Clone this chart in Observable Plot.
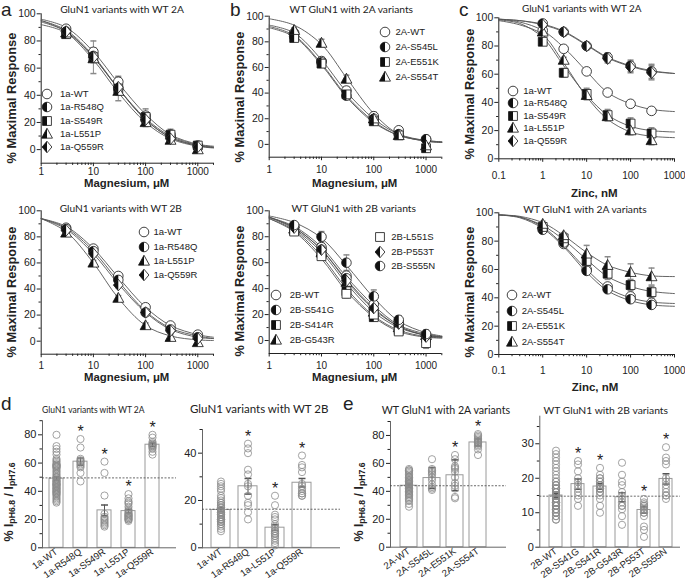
<!DOCTYPE html>
<html><head><meta charset="utf-8">
<script src="https://cdn.jsdelivr.net/npm/d3@7"></script>
<script src="https://cdn.jsdelivr.net/npm/@observablehq/plot@0.6"></script>
<style>
body{margin:0;background:#fff;}
#root{position:relative;width:685px;height:580px;overflow:hidden;font-family:"Liberation Sans",Arial,sans-serif;color:#222;}
.abs{position:absolute;white-space:nowrap;line-height:1;}
.c{transform:translate(-50%,-50%);}
.title{font-family:Lato,"Liberation Sans",sans-serif;font-size:11px;}
.letter{font-size:19px;}
.xlab{font-weight:bold;font-size:11.5px;}
.ylab{font-weight:bold;font-size:11.5px;transform:translate(-50%,-50%) rotate(-90deg);}
.leg{font-size:9.5px;transform:translateY(-50%);}
sub{font-size:70%;vertical-align:-0.25em;}
</style></head><body><div id="root"></div><script>
// ---------------- DATA ----------------
const mgDoses = [3, 10, 30, 100, 300, 1000];
const mgFitX = [1, 3, 10, 30, 100, 300, 1000, 2000];
const znDoses = [1, 3, 10, 30, 100, 300];
const znFitX = [0.1, 0.3, 1, 3, 10, 30, 100, 300, 1000];
const mgMajor = [1, 10, 100, 1000];
const mgMinor = [2,3,4,5,6,7,8,9,20,30,40,50,60,70,80,90,200,300,400,500,600,700,800,900,2000];
const znMajor = [0.1, 1, 10, 100, 1000];
const znMinor = [0.2,0.3,0.4,0.5,0.6,0.7,0.8,0.9,2,3,4,5,6,7,8,9,20,30,40,50,60,70,80,90,200,300,400,500,600,700,800,900];
const pctMajor = [0, 20, 40, 60, 80, 100];
const pctMinor = [10, 30, 50, 70, 90];

// a: GluN1 variants with WT 2A (Mg)
const aSeries = ["1a-WT","1a-R548Q","1a-S549R","1a-L551P","1a-Q559R"];
const aMean = [[89,72,50,25,11,3],[87,69,45,22,9,2],[85,68,45,24,11,3],[86,67,43,20,7,0],[87,68,46,22,8,2]];
const aErr  = [[2,3,3,3,2,2],[2,3,3,3,2,2],[3,12,9,6,4,3],[2,3,3,3,2,2],[2,3,3,3,2,2]];
const aFit  = [[96,90,72,49,26,11,4,2.5],[95,88,69,45,22,9,3,1.5],[95,87,68,45,23,10,3.5,2],[92,86,66,42,20,8,2.5,1.2],[94,87,68,45,22,9,3,1.5]];

// b: WT GluN1 with 2A variants (Mg)
const bSeries = ["2A-WT","2A-S545L","2A-E551K","2A-S554T"];
const bMean = [[87,65,42,22,11,4],[84,64,38,20,8,4],[83,63,39,18,7,-3],[89,79,51,20,7,-1]];
const bErr  = [[2,3,3,3,2,2],[2,3,3,3,2,2],[2,3,3,3,2,3],[2,3,3,3,2,2]];
const bFit  = [[93,87,66,41,20,8,3,2],[92,85,63,38,18,7,3,2],[91,84,62,37,17,7,2.5,1.5],[98,93,78,52,24,8,2.5,1.5]];

// c: GluN1 variants with WT 2A (Zn)
const cSeries = ["1a-WT","1a-R548Q","1a-S549R","1a-L551P","1a-Q559R"];
const cMean = [[91,78,62,47,39,34],[96,90,80,72,66,62],[83,61,46,31,25,18],[90,70,45,30,20,13],[95,90,80,71,65,61]];
const cErr  = [[1,2,2,2,2,2],[2,2,2,3,4,5],[2,3,4,4,4,4],[2,2,3,3,3,3],[2,2,2,3,4,5]];
const cFit  = [[99,97,91,79,62,47,39,35,33.5],[99,98,95.5,90.5,81,72,66,62.5,60.5],[98.5,96,86,66,45,31,23,20,19],[98,95,88,68,44,28,19,16,15],[99,98,95,90,80.5,71.5,65.5,62,60.5]];

// a2: GluN1 variants with WT 2B (Mg)
const a2Series = ["1a-WT","1a-R548Q","1a-L551P","1a-Q559R"];
const a2Mean = [[87,71,50,26,12,5],[86,69,47,22,9,3],[83,60,33,12,3,-1],[85,67,43,22,8,2]];
const a2Err  = [[2,2,2,2,2,2],[2,2,2,2,2,2],[2,2,2,2,2,2],[2,2,2,2,2,2]];
const a2Fit  = [[94,88,71,49,26,12,5,3],[94,87,69,46,23,10,4,2],[94,84,60,33,12,4,1,0.5],[94,86,67,44,22,9,3,2]];

// b2: WT GluN1 with 2B variants (Mg)
const b2Series = ["2B-WT","2B-S541G","2B-S414R","2B-G543R","2B-L551S","2B-P553T","2B-S555N"];
const b2Mean = [[88,72,50,28,14,4],[87,70,48,24,12,3],[85,67,38,18,8,2],[86,68,45,22,10,4],[84,65,36,20,7,-2],[87,70,46,25,13,3],[89,80,60,34,16,5]];
const b2Err  = [[2,2,3,3,2,2],[2,2,3,3,2,2],[2,2,3,3,2,2],[2,2,3,3,2,2],[2,2,3,3,2,4],[2,2,3,3,2,2],[2,4,6,5,3,3]];
const b2Fit  = [[95,88,72,49,27,12,5,3],[95,87,70,47,25,11,4,3],[94,85,65,40,19,8,3,2],[95,86,68,44,22,10,4,2.5],[94,84,63,38,18,7,2.5,2],[95,87,70,46,24,11,4,3],[96,91,79,58,33,15,6,3.5]];

// c2: WT GluN1 with 2A variants (Zn)
const c2Series = ["2A-WT","2A-S545L","2A-E551K","2A-S554T"];
const c2Mean = [[89,78,60,48,41,36.5],[88,79,59,46,39,35],[90,82,66,57,49,44],[92,84,71,63,58,55]];
const c2Err  = [[1,2,2,2,2,2],[1,2,2,2,2,2],[2,2,4,4,4,4],[2,2,6,6,6,6]];
const c2Fit  = [[98.5,97,90,77,60,47,40,37,36],[98.5,96.5,89,76,58,45,38,35,34],[98.5,97,91,81,67,55,48,44.5,43],[98.5,97.5,93,84,72,63,58,55.5,55]];

// d1: GluN1 variants with WT 2A (pH)
const d1Cats = ["1a-WT","1a-R548Q","1a-S549R","1a-L551P","1a-Q559R"];
const d1Mean = [49, 61, 26.5, 26, 73];
const d1Sem = [1.2, 2.5, 3.8, 1.3, 1.2];
const d1Sig = [false, true, true, true, true];
const d1Line = 49.5;
const d1Points = [
  [80,72,70,68,66,63,62,61,60,59,59,58,58,58,57,57,56,55,54,53,52,51,50,50,49,48,48,47,47,46,46,45,45,45,44,44,43,43,42,42,41,41,40,40,39,39,38,38,37,36,35,34,33,32],
  [77,71,63,62,61,61,60,59,58,57,53,47],
  [61,53,37,24,22,21,20,19,18,17,16,15],
  [38,35,33,32,31,29,27,26,25,24,24,23,23,22,22,21,21,20,20,19],
  [80,78,75,74,73,73,72,72,71,70,68,66]
];
// d2: GluN1 variants with WT 2B (pH)
const d2Cats = ["1a-WT","1a-R548Q","1a-L551P","1a-Q559R"];
const d2Mean = [16, 26, 8.5, 27.5];
const d2Sem = [0.8, 3.3, 1.2, 1.8];
const d2Sig = [false, true, true, true];
const d2Line = 16.3;
const d2Points = [
  [28,27,26,25,24,22,21,20,19,19,18,18,17,17,16,16,16,15,15,15,14,14,14,13,13,13,12,12,12,12,11,11,11,10,10,9,8,7],
  [44,42,40,33,31,27,26,22,19,18,15,12],
  [22,18,14,13,12,10,9,8,7,7,6,6,5,5,4,3,2,1],
  [39,35,34,32,27,26,25,24,23,23,22,22]
];
// e1: WT GluN1 with 2A variants (pH)
const e1Cats = ["2A-WT","2A-S545L","2A-E551K","2A-S554T"];
const e1Mean = [44, 49.5, 51.5, 75];
const e1Sem = [1.2, 7.5, 11, 2.5];
const e1Sig = [false, false, true, true];
const e1Line = 44;
const e1Points = [
  [56,55,55,54,53,52,51,50,50,49,48,48,47,47,46,46,45,45,44,44,43,43,42,42,41,41,40,40,39,38,38,37,36,35,34,33,31,29],
  [63,56,55,54,53,52,50,48,45,43,42,41],
  [66,63,58,57,56,54,50,46,44,42,36,35],
  [81,80,79,78,77,76,76,75,75,74,73,72,70,66]
];
// e2: WT GluN1 with 2B variants (pH)
const e2Cats = ["2B-WT","2B-S541G","2B-S541R","2B-G543R","2B-P553T","2B-S555N"];
const e2Mean = [15, 18.3, 17.6, 14.5, 10.8, 19.8];
const e2Sem = [0.5, 1.5, 0.8, 1.3, 0.9, 1.5];
const e2Sig = [false, true, true, false, true, true];
const e2Line = 14.8;
const e2Points = [
  [28,27,26,25,24,23,22,21,20,19,19,18,18,18,17,17,17,17,16,16,16,16,16,15,15,15,15,15,15,14,14,14,14,14,13,13,13,13,13,12,12,12,12,12,11,11,11,11,10,10,10,9,9,8,8],
  [25,24,22,20,19,18,17,16,15,14,12],
  [23,21,20,20,19,19,18,18,18,17,17,17,16,16,15,14,12,10],
  [24.5,21,19,18,16,15,14,13,12,12,11,9,6.5],
  [14,13,12.5,12,12,11.5,11,11,10,10,9,6,5,3],
  [29,26,25,24,20,19,18,17,16,15,15,14]
];

// ---------------- SHAPES ----------------
const rr = s => Math.sqrt(s / Math.PI);
const SYM = {
  circle: {draw(c, s) { const r = rr(s); c.moveTo(r, 0); c.arc(0, 0, r, 0, 2 * Math.PI); }},
  circleL: {draw(c, s) { const r = rr(s); c.moveTo(0, -r); c.arc(0, 0, r, -Math.PI / 2, Math.PI / 2, true); c.closePath(); }},
  square: {draw(c, s) { const r = rr(s) * 0.92; c.rect(-r, -r, 2 * r, 2 * r); }},
  squareL: {draw(c, s) { const r = rr(s) * 0.92; c.rect(-r, -r, r, 2 * r); }},
  triangle: {draw(c, s) { const r = rr(s) * 1.2; c.moveTo(0, -r); c.lineTo(r * 0.95, r * 0.72); c.lineTo(-r * 0.95, r * 0.72); c.closePath(); }},
  triangleL: {draw(c, s) { const r = rr(s) * 1.2; c.moveTo(0, -r); c.lineTo(0, r * 0.72); c.lineTo(-r * 0.95, r * 0.72); c.closePath(); }},
  diamond: {draw(c, s) { const r = rr(s) * 1.2; c.moveTo(0, -r); c.lineTo(r * 0.85, 0); c.lineTo(0, r); c.lineTo(-r * 0.85, 0); c.closePath(); }},
  diamondL: {draw(c, s) { const r = rr(s) * 1.2; c.moveTo(0, -r); c.lineTo(0, r); c.lineTo(-r * 0.85, 0); c.closePath(); }},
  hline: {draw(c, s) { const r = rr(s); c.moveTo(-r, 0); c.lineTo(r, 0); }}
};
const SHAPES = {
  circle: {full: SYM.circle}, circleH: {full: SYM.circle, half: SYM.circleL},
  square: {full: SYM.square}, squareH: {full: SYM.square, half: SYM.squareL},
  triangleH: {full: SYM.triangle, half: SYM.triangleL}, diamondH: {full: SYM.diamond, half: SYM.diamondL}
};

const root = document.getElementById("root");
const FONT = '"Liberation Sans", Arial, sans-serif';
const MR = 4.8;

function place(svg, left, top) {
  svg.style.position = "absolute"; svg.style.left = left + "px"; svg.style.top = top + "px"; svg.style.maxWidth = "none";
  root.appendChild(svg);
}
function txt(html, x, y, cls, width) {
  const el = document.createElement("div");
  el.className = "abs " + cls;
  el.innerHTML = html;
  el.style.left = x + "px"; el.style.top = y + "px";
  root.appendChild(el);
  if (width) {
    const fs = parseFloat(getComputedStyle(el).fontSize);
    el.style.fontSize = (fs * width / el.offsetWidth) + "px";
  }
  return el;
}
function symbolAt(kind, cx, cy) {
  const sh = SHAPES[kind], size = Math.PI * MR * MR;
  const p1 = d3.path(); sh.full.draw(p1, size);
  let h = `<svg width="16" height="16" viewBox="-8 -8 16 16" style="position:absolute;left:${cx - 8}px;top:${cy - 8}px;overflow:visible"><path d="${p1}" fill="white" stroke="#111" stroke-width="0.8"/>`;
  if (sh.half) { const p2 = d3.path(); sh.half.draw(p2, size); h += `<path d="${p2}" fill="#111"/>`; }
  root.insertAdjacentHTML("beforeend", h + "</svg>");
}
function legend(names, kinds, sx, tx, ys) {
  names.forEach((n, i) => { symbolAt(kinds[i], sx, ys[i]); txt(n, tx, ys[i], "leg"); });
}

function curvePanel(P) {
  const pts = [], fits = [];
  P.series.forEach((s, i) => {
    P.doses.forEach((x, j) => pts.push({s, i, x, y: P.mean[i][j], e: P.err[i][j]}));
    P.fitX.forEach((x, j) => fits.push({s, i, x, y: P.fit[i][j]}));
  });
  const marks = [
    Plot.ruleY([P.yDomain[0]], {stroke: "#222"}),
    Plot.ruleX([P.xDomain[0]], {stroke: "#222"}),
    Plot.axisX(P.xMajor, {tickSize: 3.5, tickPadding: P.tp, tickFormat: d => String(d), label: null, fontSize: 10}),
    Plot.axisX(P.xMinor, {tickSize: 2.2, tickFormat: () => "", label: null}),
    Plot.axisY(pctMajor, {tickSize: 4, tickPadding: 1.5, tickFormat: d => String(d), label: null, fontSize: 10.5}),
    Plot.axisY(pctMinor, {tickSize: 2.2, tickFormat: () => "", label: null}),
    Plot.line(fits, {x: "x", y: "y", z: "s", curve: "catmull-rom", stroke: "#555", strokeWidth: 0.9}),
    Plot.ruleX(pts, {x: "x", y1: d => d.y - d.e, y2: d => d.y + d.e, stroke: "#8a8a8a"}),
    Plot.dot(pts, {x: "x", y: d => d.y + d.e, symbol: SYM.hline, r: 3, stroke: "#8a8a8a", fill: "none"}),
    Plot.dot(pts, {x: "x", y: d => d.y - d.e, symbol: SYM.hline, r: 3, stroke: "#8a8a8a", fill: "none"})
  ];
  P.series.forEach((s, i) => {
    const sh = SHAPES[P.kinds[i]];
    const sub = pts.filter(d => d.i === i);
    marks.push(Plot.dot(sub, {x: "x", y: "y", r: MR, symbol: sh.full, fill: "white", stroke: "#111", strokeWidth: 0.8}));
    if (sh.half) marks.push(Plot.dot(sub, {x: "x", y: "y", r: MR, symbol: sh.half, fill: "#111", stroke: "none"}));
  });
  const svg = Plot.plot({
    width: P.w, height: P.h, marginLeft: P.m[0], marginRight: P.m[1], marginTop: P.m[2], marginBottom: P.m[3],
    x: {type: "log", domain: P.xDomain, axis: null}, y: {domain: P.yDomain, axis: null},
    style: {fontFamily: FONT, fontSize: "10.5px", color: "#222", overflow: "visible"},
    marks
  });
  place(svg, P.left, P.top);
}

function barPanel(B) {
  const rows = B.cats.map((c, i) => ({c, m: B.mean[i], s: B.sem[i], sig: B.sig[i], max: d3.max(B.points[i])}));
  const pts = B.cats.flatMap((c, i) => B.points[i].map(v => ({c, v})));
  const common = {width: B.w, height: B.h, marginLeft: B.m[0], marginRight: B.m[1], marginTop: B.m[2], marginBottom: B.m[3],
    style: {fontFamily: FONT, fontSize: "10.5px", color: "#222", overflow: "visible"}};
  const band = {domain: B.cats, paddingInner: B.pi, paddingOuter: B.po, align: B.align};
  const svg1 = Plot.plot({...common,
    x: {...band, axis: null}, y: {domain: B.yDomain, axis: null},
    marks: [
      Plot.barY(rows, {x: "c", y: "m", fill: "white", stroke: "#9a9a9a"}),
      Plot.ruleY([0], {stroke: "#666"}),
      Plot.frame({anchor: "left", stroke: "#666"}),
      Plot.axisY(B.yMajor, {tickSize: 4, tickPadding: 2, label: null, fontSize: 11}),
      Plot.axisY(B.yMinor, {tickSize: 2.5, tickFormat: () => "", label: null}),
      Plot.axisX({tickSize: 0, tickPadding: 3, tickRotate: -35, label: null, fontSize: 9.5}),
      Plot.ruleY([B.line], {stroke: "#444", strokeDasharray: "2,1.5", strokeWidth: 0.8}),
      Plot.ruleX(rows, {x: "c", y1: d => d.m - d.s, y2: d => d.m + d.s, stroke: "#555"}),
      Plot.dot(rows, {x: "c", y: d => d.m + d.s, symbol: SYM.hline, r: 3.5, stroke: "#555", fill: "none"}),
      Plot.dot(rows, {x: "c", y: d => d.m - d.s, symbol: SYM.hline, r: 3.5, stroke: "#555", fill: "none"}),
      Plot.text(rows.filter(d => d.sig), {x: "c", y: "max", text: () => "*", dy: -7, fontSize: 16, lineAnchor: "middle"})
    ]});
  place(svg1, B.left, B.top);
  const svg2 = Plot.plot({...common,
    fx: {...band, axis: null, label: null}, y: {domain: B.yDomain, axis: null},
    marks: [Plot.dot(pts, Plot.dodgeX({anchor: "middle", padding: B.dp}, {fx: "c", y: "v", r: 3.6, stroke: "#8c8c8c", fill: "none", strokeWidth: 0.8}))]
  });
  place(svg2, B.left, B.top);
}

const K5 = ["circle","circleH","squareH","triangleH","diamondH"];
const K4 = ["circle","circleH","squareH","triangleH"];
curvePanel({left: 0, top: 0, w: 228, h: 195, m: [40.7, 15, 13.3, 32.3], tp: 0.8, xDomain: [1, 2000], yDomain: [-10, 100], xMajor: mgMajor, xMinor: mgMinor,
  doses: mgDoses, fitX: mgFitX, series: aSeries, mean: aMean, err: aErr, fit: aFit, kinds: K5});
curvePanel({left: 228, top: 0, w: 228, h: 195, m: [40.7, 14.7, 15.7, 38.3], tp: 5.5, xDomain: [1, 2000], yDomain: [-10, 100], xMajor: mgMajor, xMinor: mgMinor,
  doses: mgDoses, fitX: mgFitX, series: bSeries, mean: bMean, err: bErr, fit: bFit, kinds: K4});
curvePanel({left: 455, top: 0, w: 230, h: 195, m: [43.3, 11, 17.3, 36.7], tp: 9.3, xDomain: [0.1, 1000], yDomain: [0, 100], xMajor: znMajor, xMinor: znMinor,
  doses: znDoses, fitX: znFitX, series: cSeries, mean: cMean, err: cErr, fit: cFit, kinds: K5});
curvePanel({left: 0, top: 195, w: 228, h: 200, m: [40.7, 15, 15.3, 41.3], tp: 4, xDomain: [1, 2000], yDomain: [-10, 100], xMajor: mgMajor, xMinor: mgMinor,
  doses: mgDoses, fitX: mgFitX, series: a2Series, mean: a2Mean, err: a2Err, fit: a2Fit, kinds: ["circle","circleH","triangleH","diamondH"]});
curvePanel({left: 228, top: 195, w: 228, h: 200, m: [40.7, 14.7, 15.3, 42], tp: 4.6, xDomain: [1, 2000], yDomain: [-10, 100], xMajor: mgMajor, xMinor: mgMinor,
  doses: mgDoses, fitX: mgFitX, series: b2Series, mean: b2Mean, err: b2Err, fit: b2Fit, kinds: ["circle","circleH","squareH","triangleH","square","diamondH","circleH"]});
curvePanel({left: 455, top: 195, w: 230, h: 200, m: [43.3, 11, 17.3, 41], tp: 8.6, xDomain: [0.1, 1000], yDomain: [0, 100], xMajor: znMajor, xMinor: znMinor,
  doses: znDoses, fitX: znFitX, series: c2Series, mean: c2Mean, err: c2Err, fit: c2Fit, kinds: K4});

barPanel({left: 0, top: 395, w: 180, h: 185, m: [42, 4, 25.2, 32.7], pi: 0.41, po: 0.43, align: 0.3, dp: -6, yDomain: [0, 90], yMajor: [0,20,40,60,80], yMinor: [10,30,50,70,90],
  cats: d1Cats, mean: d1Mean, sem: d1Sem, sig: d1Sig, line: d1Line, points: d1Points});
barPanel({left: 170, top: 395, w: 175, h: 185, m: [32, 5, 34, 32.7], pi: 0.31, po: 0.67, align: 0.23, dp: -5.4, yDomain: [0, 50], yMajor: [0,20,40], yMinor: [10,30,50],
  cats: d2Cats, mean: d2Mean, sem: d2Sem, sig: d2Sig, line: d2Line, points: d2Points});
barPanel({left: 340, top: 395, w: 170, h: 185, m: [50, 4, 26, 33.3], pi: 0.28, po: 0.62, align: 0.33, dp: -5.8, yDomain: [0, 90], yMajor: [0,20,40,60,80], yMinor: [10,30,50,70,90],
  cats: e1Cats, mean: e1Mean, sem: e1Sem, sig: e1Sig, line: e1Line, points: e1Points});
barPanel({left: 505, top: 395, w: 180, h: 185, m: [34.3, 5, 20.7, 33.3], pi: 0.39, po: 0.36, align: 0.55, dp: -5.8, yDomain: [0, 38], yMajor: [0,10,20,30], yMinor: [5,15,25,35],
  cats: e2Cats, mean: e2Mean, sem: e2Sem, sig: e2Sig, line: e2Line, points: e2Points});

// ---------------- TEXT ----------------
[["a", 1, 0], ["b", 230, 0], ["c", 459, 0], ["d", 1, 394], ["e", 343, 394]].forEach(([t, x, y]) => txt(t, x, y, "letter"));
[["GluN1 variants with WT 2A", 122, 8.5, 124], ["WT GluN1 with 2A variants", 351.3, 8.5, 123], ["GluN1 variants with WT 2A", 581.7, 8.5, 120],
 ["GluN1 variants with WT 2B", 120.8, 207.7, 122], ["WT GluN1 with 2B variants", 353.8, 208.3, 125], ["WT GluN1 with 2A variants", 585, 209, 123],
 ["GluN1 variants with WT 2A", 93.3, 410, 103], ["GluN1 variants with WT 2B", 259.2, 409, 138], ["WT GluN1 with 2A variants", 446, 410, 128], ["WT GluN1 with 2B variants", 605.8, 410, 125]
].forEach(([t, x, y, w]) => txt(t, x, y, "title c", w));
[[12, 97.5], [240, 97], [470, 94], [11.7, 291.7], [240, 291], [470, 291.7]].forEach(([x, y]) => txt("% Maximal Response", x, y, "ylab", 131));
[[126.7, 183.5], [354.7, 183.5], [126.7, 378], [354.7, 378]].forEach(([x, y]) => txt("Magnesium, μM", x, y, "xlab c", 85));
[[594.3, 194], [595, 388.3]].forEach(([x, y]) => txt("Zinc, nM", x, y, "xlab c", 47));
[[10, 501.7], [360, 501.7]].forEach(([x, y]) => txt("% I<sub>pH6.8</sub> / I<sub>pH7.6</sub>", x, y, "ylab", 79));

legend(aSeries, K5, 46.7, 60, [94, 107.3, 120.5, 133.5, 146.7]);
legend(bSeries, K4, 384.7, 395.5, [32.3, 47.3, 62.3, 77.3]);
legend(cSeries, K5, 513.3, 523.3, [90.7, 103.3, 115.7, 128.3, 141]);
legend(a2Series, ["circle","circleH","triangleH","diamondH"], 144, 153.5, [232.3, 246.7, 261, 275]);
legend(b2Series.slice(4), ["square","diamondH","circleH"], 379.7, 391.3, [237.3, 251.7, 266]);
legend(b2Series.slice(0, 4), ["circle","circleH","squareH","triangleH"], 276.3, 289.7, [295, 310, 325, 340]);
legend(c2Series, K4, 511.7, 521.7, [295, 310.7, 326, 341.7]);
</script></body></html>
